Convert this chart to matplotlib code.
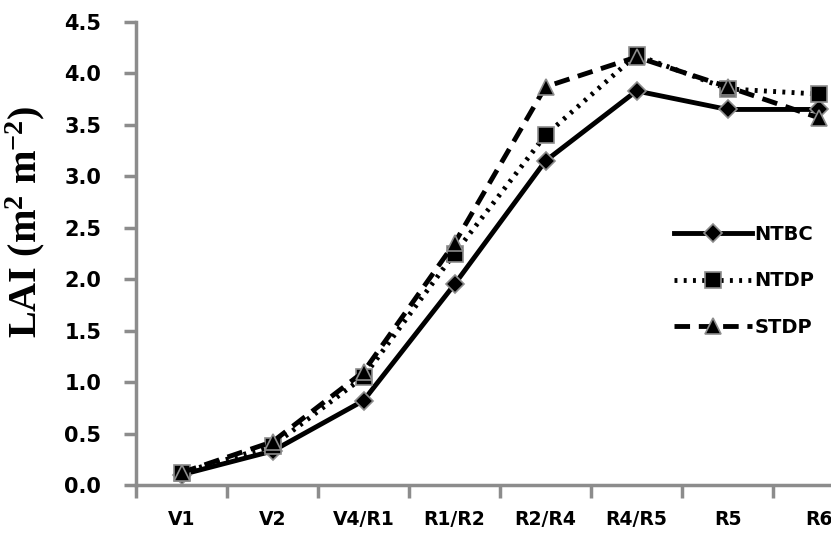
import numpy as np
import matplotlib.pyplot as plt
from matplotlib import font_manager

plt.rcParams['mathtext.fontset'] = 'custom'
plt.rcParams['mathtext.rm'] = 'Liberation Serif:bold'
plt.rcParams['mathtext.bf'] = 'Liberation Serif:bold'
plt.rcParams['mathtext.default'] = 'bf'

stages = ['V1', 'V2', 'V4/R1', 'R1/R2', 'R2/R4', 'R4/R5', 'R5', 'R6']
ntbc = [0.10, 0.33, 0.82, 1.95, 3.15, 3.83, 3.65, 3.65]
ntdp = [0.12, 0.38, 1.05, 2.25, 3.40, 4.18, 3.85, 3.80]
stdp = [0.12, 0.42, 1.10, 2.35, 3.87, 4.16, 3.87, 3.57]

names = {f.name for f in font_manager.fontManager.ttflist}
narrow = 'Liberation Sans Narrow' if 'Liberation Sans Narrow' in names else 'DejaVu Sans'

W, H = 831, 542
fig = plt.figure(figsize=(W / 100, H / 100), dpi=100)
# axis runs past the right edge of the picture, as in the reference
ax = fig.add_axes([136 / W, (H - 485) / H, 728 / W, 463 / H])

x = np.arange(len(stages))
mk = dict(markeredgecolor='#8c8c8c', markerfacecolor='black', markeredgewidth=1.2)
ax.plot(x, ntbc, color='black', lw=3.5, ls='-', marker='D', ms=9, label='NTBC', **mk)
ax.plot(x, ntdp, color='black', lw=3.5, ls=(0, (0.6, 1.3)), marker='s', ms=12, label='NTDP', **mk)
ax.plot(x, stdp, color='black', lw=3.5, ls=(0, (3.2, 1.8)), marker='^', ms=12, label='STDP', **mk)

ax.set_xlim(-0.5, len(stages) - 0.5)
ax.set_ylim(0, 4.5)
ax.set_yticks(np.arange(0, 4.51, 0.5))
ax.set_yticklabels([f'{v:.1f}' for v in np.arange(0, 4.51, 0.5)])
ax.set_xticks(np.arange(-0.5, len(stages), 1.0))
ax.set_xticklabels([])
ax.set_xticks(x, minor=True)
ax.set_xticklabels(stages, minor=True)

for s in ['top', 'right']:
    ax.spines[s].set_visible(False)
for s in ['left', 'bottom']:
    ax.spines[s].set_color('#8c8c8c')
    ax.spines[s].set_linewidth(2.5)
ax.tick_params(axis='y', which='major', direction='out', length=9, width=2.5,
               color='#8c8c8c', labelsize=15, pad=16)
ax.tick_params(axis='x', which='major', direction='out', length=9, width=2.5,
               color='#8c8c8c')
ax.tick_params(axis='x', which='minor', length=0, labelsize=13.5, pad=18)
for lab in ax.get_yticklabels() + ax.get_xticklabels(minor=True):
    lab.set_fontweight('bold')

ax.set_ylabel('LAI (m$^{2}$ m$^{-2}$)', fontsize=29, fontweight='bold',
              family='Liberation Serif')
ax.yaxis.set_label_coords(-0.122, 0.568)

leg = ax.legend(loc='upper left', bbox_to_anchor=(0.715, 0.60), frameon=False,
                handlelength=4.0, labelspacing=1.42, handletextpad=0.15,
                prop={'family': narrow, 'weight': 'bold', 'size': 14})

fig.savefig('out.png', dpi=100)
